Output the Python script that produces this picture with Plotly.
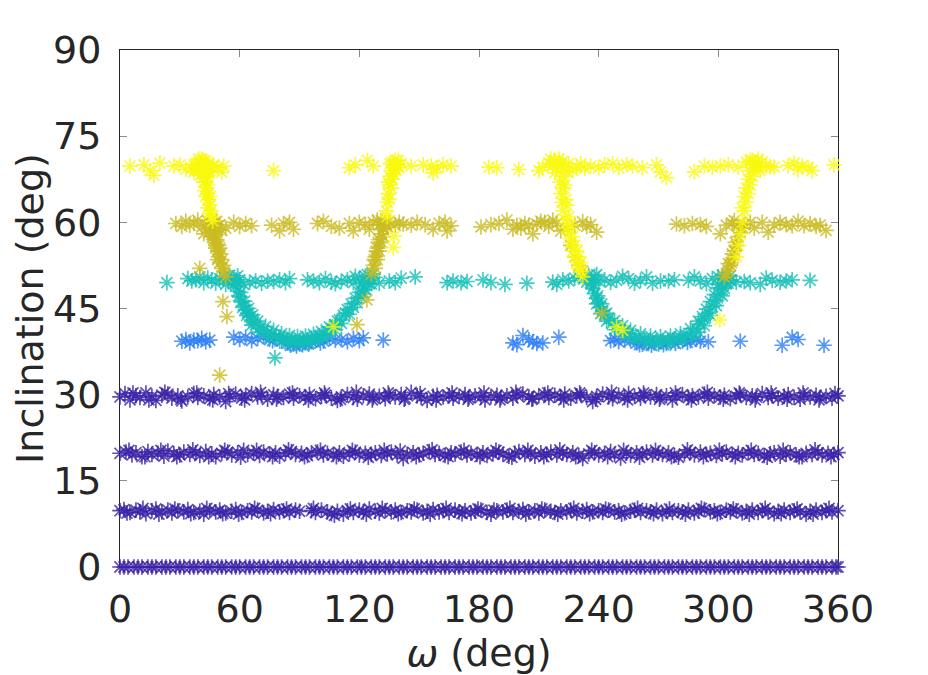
import plotly.graph_objects as go

# omega (deg) and inclination (deg)

# i = 0 band (flat)
omega_0 = [0, 2, 4, 7, 9, 11, 14, 16, 18, 21, 23, 25, 28, 30, 32, 35, 37, 39, 42, 44, 46, 49, 51, 53,
           56, 58, 60, 63, 65, 67, 70, 72, 74, 77, 79, 81, 84, 86, 88, 91, 93, 95, 98, 100, 102, 105,
           107, 109, 112, 114, 116, 119, 121, 123, 126, 128, 130, 133, 135, 137, 140, 142, 144, 147,
           149, 151, 154, 156, 158, 161, 163, 165, 168, 170, 172, 175, 177, 179, 182, 184, 186, 189,
           191, 193, 196, 198, 200, 203, 205, 207, 210, 212, 214, 217, 219, 221, 224, 226, 228, 231,
           233, 235, 238, 240, 242, 245, 247, 249, 252, 254, 256, 259, 261, 263, 266, 268, 270, 273,
           275, 277, 280, 282, 284, 287, 289, 291, 294, 296, 298, 301, 303, 305, 308, 310, 312, 315,
           317, 319, 322, 324, 326, 329, 331, 333, 336, 338, 340, 343, 345, 347, 350, 352, 354, 357,
           359, 360]

band_10 = [(0, 9.8), (2, 10.0), (5, 9.5), (8, 9.9), (10, 9.6), (13, 9.3), (16, 9.8), (18, 10.1),
           (21, 9.6), (24, 9.9), (26, 9.4), (29, 9.8), (32, 9.6), (34, 10.0), (37, 9.5), (40, 9.7),
           (42, 9.2), (45, 9.8), (48, 9.6), (50, 9.9), (53, 9.4), (56, 9.7), (58, 10.0), (61, 9.5),
           (64, 9.8), (66, 9.6), (69, 9.9), (72, 9.4), (74, 9.7), (77, 10.0), (80, 9.6), (82, 9.8),
           (85, 9.5), (88, 9.9), (90, 9.7), (96, 9.8), (98, 9.5), (101, 9.9), (104, 9.6), (106, 9.3),
           (109, 9.7), (112, 9.2), (114, 9.8), (117, 9.5), (120, 9.9), (122, 9.6), (125, 10.1),
           (128, 9.7), (130, 9.4), (133, 9.8), (136, 9.6), (138, 9.9), (141, 9.5), (144, 9.8),
           (146, 9.6), (149, 9.9), (152, 9.4), (154, 9.7), (157, 10.0), (160, 9.6), (162, 9.8),
           (165, 9.5), (168, 9.9), (170, 9.6), (173, 9.8), (176, 9.4), (178, 9.7), (181, 9.9),
           (184, 9.5), (186, 9.2), (189, 9.8), (192, 9.6), (194, 9.9), (197, 9.5), (200, 9.7),
           (202, 10.0), (205, 9.6), (208, 9.8), (210, 9.4), (213, 9.9), (216, 9.7), (218, 9.5),
           (221, 9.8), (224, 9.6), (226, 9.9), (229, 9.4), (232, 9.7), (234, 10.0), (237, 9.6),
           (240, 9.8), (242, 9.5), (245, 9.9), (248, 9.6), (250, 9.8), (253, 9.4), (256, 9.7),
           (258, 9.9), (261, 9.5), (264, 9.8), (266, 9.6), (269, 9.9), (272, 9.3), (274, 9.7),
           (277, 9.5), (280, 9.8), (282, 9.6), (285, 9.9), (288, 9.4), (290, 9.7), (293, 10.0),
           (296, 9.6), (298, 9.8), (301, 9.5), (304, 9.9), (306, 9.6), (309, 9.8), (312, 9.4),
           (314, 9.7), (317, 9.9), (320, 9.5), (322, 9.8), (325, 9.6), (328, 9.3), (330, 9.7),
           (333, 9.9), (336, 9.5), (338, 9.8), (341, 9.6), (344, 9.2), (346, 9.7), (349, 9.9),
           (352, 9.5), (354, 9.8), (357, 9.6), (360, 9.8),
           (3.5, 9.4), (11.5, 10.2), (19.5, 9.2), (27.5, 10.1), (35.5, 9.3), (43.5, 10.2), (51.5, 9.3),
           (59.5, 9.2), (67.5, 10.2), (75.5, 9.3), (83.5, 10.1), (97, 10.2), (107.5, 9.0), (115.5, 10.1),
           (123.5, 9.2), (131.5, 10.2), (139.5, 9.3), (147.5, 10.1), (155.5, 9.2), (163.5, 10.2),
           (171.5, 9.3), (179.5, 10.1), (187.5, 9.9), (195.5, 10.2), (203.5, 9.2), (211.5, 10.1),
           (219.5, 9.2), (227.5, 10.2), (235.5, 9.3), (243.5, 10.1), (251.5, 9.2), (259.5, 10.2),
           (267.5, 9.3), (275.5, 10.1), (283.5, 9.2), (291.5, 10.2), (299.5, 9.3), (307.5, 10.1),
           (315.5, 9.2), (323.5, 10.2), (331.5, 9.3), (339.5, 10.1), (347.5, 9.2), (355.5, 10.2)]

band_20 = [(0, 19.8), (3, 20.0), (6, 19.5), (8, 19.9), (11, 19.2), (14, 20.1), (16, 19.6), (19, 19.8),
           (22, 19.3), (24, 20.2), (27, 19.7), (30, 19.5), (32, 20.0), (35, 19.6), (38, 19.9),
           (40, 19.4), (43, 20.1), (46, 19.7), (48, 19.2), (51, 19.8), (54, 20.0), (56, 19.5),
           (59, 19.9), (62, 20.3), (64, 19.6), (67, 19.8), (70, 19.4), (72, 20.0), (75, 19.7),
           (78, 19.9), (80, 19.3), (83, 19.8), (86, 20.1), (88, 19.6), (91, 19.8), (94, 19.4),
           (96, 19.9), (99, 20.0), (102, 19.5), (104, 19.8), (107, 19.6), (110, 19.9), (112, 19.3),
           (115, 19.7), (118, 20.0), (120, 19.5), (123, 19.8), (126, 19.6), (128, 19.9), (131, 19.4),
           (134, 19.7), (136, 20.0), (139, 19.5), (142, 18.9), (144, 19.6), (147, 19.9), (150, 19.5),
           (152, 19.8), (155, 20.1), (158, 19.6), (160, 19.8), (163, 19.4), (166, 19.9), (168, 19.7),
           (171, 20.0), (174, 19.5), (176, 19.8), (179, 19.6), (182, 19.9), (184, 19.4), (187, 19.7),
           (190, 20.0), (192, 19.6), (195, 19.3), (198, 19.8), (200, 20.1), (203, 19.6), (206, 19.8),
           (208, 19.3), (211, 19.9), (214, 19.6), (216, 20.0), (219, 19.5), (222, 19.8), (224, 19.6),
           (227, 19.9), (230, 19.4), (232, 18.9), (235, 19.7), (238, 19.9), (240, 19.5), (243, 19.8),
           (246, 20.1), (248, 19.6), (251, 19.0), (254, 19.8), (256, 19.5), (259, 19.9), (262, 19.7),
           (264, 20.0), (267, 19.5), (270, 19.8), (272, 19.6), (275, 19.9), (278, 19.4), (280, 19.1),
           (283, 19.7), (286, 19.9), (288, 19.5), (291, 20.0), (294, 19.6), (296, 19.8), (299, 19.4),
           (302, 19.7), (304, 20.0), (307, 19.6), (310, 19.8), (312, 19.5), (315, 19.9), (318, 19.6),
           (320, 19.8), (323, 19.4), (326, 19.7), (328, 19.9), (331, 19.3), (334, 19.6), (336, 19.9),
           (339, 19.5), (342, 19.2), (344, 19.8), (347, 19.6), (350, 19.9), (352, 19.5), (355, 19.8),
           (358, 19.6), (360, 19.9),
           (4.5, 20.3), (12.5, 19.2), (20.5, 20.3), (28.5, 19.2), (36.5, 20.4), (44.5, 19.2),
           (52.5, 20.3), (60.5, 19.1), (68.5, 20.3), (76.5, 19.2), (84.5, 20.4), (92.5, 19.2),
           (100.5, 20.3), (108.5, 19.2), (116.5, 20.3), (124.5, 19.1), (132.5, 20.3), (140.5, 20.2),
           (148.5, 19.2), (156.5, 20.4), (164.5, 19.2), (172.5, 20.3), (180.5, 19.2), (188.5, 20.3),
           (196.5, 19.1), (204.5, 20.3), (212.5, 19.2), (220.5, 20.4), (228.5, 19.2), (236.5, 20.3),
           (244.5, 19.2), (252.5, 20.3), (260.5, 19.1), (268.5, 20.3), (276.5, 19.2), (284.5, 20.4),
           (292.5, 19.2), (300.5, 20.3), (308.5, 19.2), (316.5, 20.3), (324.5, 19.1), (332.5, 20.3),
           (340.5, 19.2), (348.5, 20.4), (356.5, 19.2)]

band_30 = [(0, 29.6), (2.5, 30.2), (5, 29.1), (8, 29.8), (10, 29.5), (13, 30.3), (16, 29.7), (18, 29.0),
           (21, 29.9), (24, 30.1), (26, 29.4), (29, 29.8), (31, 28.9), (34, 29.6), (37, 30.2),
           (39, 29.5), (42, 29.8), (45, 29.3), (47, 30.0), (50, 29.6), (53, 28.8), (55, 29.7),
           (58, 30.1), (61, 29.4), (63, 29.9), (66, 30.2), (69, 29.6), (71, 29.8), (74, 29.2),
           (77, 30.0), (79, 29.7), (82, 29.5), (85, 30.1), (87, 29.4), (90, 29.8), (93, 29.6),
           (95, 30.0), (98, 29.3), (101, 29.7), (103, 29.9), (106, 29.4), (109, 29.0), (111, 29.6),
           (114, 30.0), (117, 29.5), (119, 29.2), (122, 29.8), (125, 30.1), (127, 29.5), (130, 29.7),
           (133, 29.3), (135, 29.9), (138, 29.6), (141, 30.0), (143, 29.4), (146, 30.4), (149, 29.8),
           (151, 29.5), (154, 29.0), (157, 29.7), (159, 29.9), (162, 29.6), (165, 29.8), (167, 29.4),
           (170, 29.7), (173, 30.0), (175, 29.5), (178, 29.8), (181, 29.6), (183, 29.1), (186, 29.7),
           (189, 29.9), (191, 29.5), (194, 29.8), (197, 29.4), (199, 29.9), (202, 30.1), (205, 29.6),
           (207, 29.3), (210, 29.8), (213, 30.0), (215, 29.5), (218, 29.9), (221, 29.6), (223, 30.1),
           (226, 29.4), (229, 29.8), (231, 30.0), (234, 29.5), (237, 28.8), (239, 29.7), (242, 30.1),
           (245, 29.6), (247, 29.3), (250, 29.9), (253, 29.5), (255, 30.2), (258, 29.7), (261, 29.4),
           (263, 29.9), (266, 29.6), (269, 30.0), (271, 29.5), (274, 29.8), (277, 29.1), (279, 29.7),
           (282, 30.0), (285, 29.5), (287, 29.8), (290, 29.6), (293, 30.1), (295, 29.4), (298, 29.8),
           (301, 29.6), (303, 29.9), (306, 29.3), (309, 29.7), (311, 30.0), (314, 29.5), (317, 29.8),
           (319, 29.6), (322, 30.2), (325, 29.5), (327, 29.8), (330, 29.4), (333, 29.7), (335, 30.0),
           (338, 29.5), (341, 29.2), (343, 29.8), (346, 29.6), (349, 29.9), (351, 29.5), (354, 29.7),
           (357, 29.4), (360, 29.8),
           (6.5, 30.3), (14.5, 29.1), (22.5, 30.4), (30.5, 29.2), (38.5, 30.3), (46.5, 29.1),
           (54.5, 30.2), (62.5, 29.1), (70.5, 30.4), (78.5, 29.2), (86.5, 30.3), (94.5, 29.1),
           (102.5, 30.3), (110.5, 29.2), (118.5, 30.4), (126.5, 29.1), (134.5, 30.3), (142.5, 29.2),
           (150.5, 30.2), (158.5, 29.1), (166.5, 30.3), (174.5, 29.2), (182.5, 30.3), (190.5, 29.1),
           (198.5, 30.4), (206.5, 29.2), (214.5, 30.3), (222.5, 29.1), (230.5, 30.3), (238.5, 29.2),
           (246.5, 30.4), (254.5, 29.1), (262.5, 30.3), (270.5, 29.2), (278.5, 30.3), (286.5, 29.1),
           (294.5, 30.4), (302.5, 29.2), (310.5, 30.3), (318.5, 29.1), (326.5, 30.3), (334.5, 29.2),
           (342.5, 30.3), (350.5, 29.1), (358.5, 30.2)]

# i = 40 group (blue)
blue_pts = [(31, 39.3), (33, 39.6), (35, 39.0), (37, 39.5), (39, 39.4), (41, 39.8), (43, 39.2), (45, 39.5),
            (57, 40.0), (60, 39.6), (63, 40.0), (66, 39.4), (69, 39.8), (72, 40.1), (75, 39.6), (78, 39.9),
            (81, 39.3), (84, 39.0), (87, 38.8), (90, 38.9), (93, 39.0), (96, 39.2), (99, 39.6), (102, 39.3),
            (105, 39.8), (108, 39.5), (111, 39.6), (114, 39.2), (117, 39.8), (120, 39.4), (122, 39.9),
            (132, 39.5), (197, 39.0), (199, 38.7), (202, 40.3), (205, 39.6), (207, 39.2), (209, 38.9),
            (212, 39.0), (220, 40.0), (246, 39.4), (248, 39.8), (250, 39.2), (253, 39.5), (256, 39.4),
            (259, 39.0), (262, 38.8), (265, 38.9), (268, 39.0), (271, 39.2), (274, 38.9), (277, 39.5),
            (280, 39.3), (283, 39.7), (286, 39.4), (289, 39.6), (291, 39.3), (295, 39.2), (311, 39.3),
            (332, 38.6), (337, 40.0), (340, 39.6), (353, 38.6),
            (85.5, 38.6), (88.5, 38.5), (91.5, 38.7), (94.5, 38.8), (260.5, 38.7), (266.5, 38.6),
            (272.5, 38.7), (278.5, 38.9), (284.5, 39.1), (100.5, 39.0), (76.5, 39.4)]

# i = 50 group (teal), band plus the two U-shaped arcs
teal_pts = [(23.5, 49.5), (34, 50.2), (36, 49.8), (38, 50.0), (40, 50.5), (42, 49.5), (44, 50.3), (46, 50.0),
            (48, 49.4), (50, 50.2), (52, 50.6), (54, 49.8), (56, 50.3), (58, 49.6), (60, 50.0), (62, 49.2),
            (65, 49.6), (68, 49.8), (71, 49.4), (74, 49.8), (77, 49.7), (80, 50.0), (83, 49.5), (85, 50.2),
            (55, 50.8), (57, 49.3), (59, 50.7), (53, 49.2),
            (57, 50.0), (58, 49.0), (59, 48.0), (60, 47.0), (61, 46.2), (62, 45.5), (63, 44.8), (64, 44.2),
            (65, 43.6), (66, 43.0), (67, 42.6), (68, 42.2), (70, 41.6), (72, 41.2), (74, 40.8), (76, 40.5),
            (78, 40.2), (80, 40.0), (82, 39.8), (84, 39.6), (86, 39.5), (88, 39.4), (90, 39.4), (92, 39.5),
            (94, 39.6), (96, 39.8), (98, 40.0), (100, 40.2), (102, 40.6), (104, 41.0), (106, 41.5),
            (108, 42.2), (110, 43.0), (112, 43.8), (114, 44.8), (116, 45.8), (118, 46.8), (120, 47.8),
            (122, 48.8), (124, 49.6), (126, 50.2),
            (58.5, 49.5), (60.5, 47.8), (62.5, 46.3), (64.5, 45.0), (66.5, 43.9), (69, 42.8), (73, 41.9),
            (77, 41.2), (81, 40.6), (85, 40.3), (89, 40.1), (93, 40.2), (97, 40.5), (101, 41.0),
            (105, 41.8), (109, 42.8), (113, 44.2), (117, 45.2), (121, 47.0), (123, 48.3), (125, 49.3),
            (59.5, 47.2), (61.5, 45.2), (63.5, 43.8), (66, 42.1), (70, 40.9), (75, 39.9), (80, 39.3),
            (85, 38.9), (90, 38.8), (95, 39.0), (100, 39.5), (104, 40.2), (108, 41.3), (111, 42.4),
            (115, 44.0), (119, 46.0), (122, 47.6), (126, 49.3),
            (77.7, 36.4),
            (94, 50.0), (97, 49.8), (100, 49.5), (103, 50.2), (106, 49.6), (108, 49.3), (111, 49.8),
            (114, 50.0), (117, 49.5), (120, 50.3), (123, 50.6), (125, 50.0), (128, 50.4), (130, 49.4),
            (127, 51.0), (124, 50.9), (121, 49.3), (118, 50.6),
            (135, 49.8), (138, 49.5), (141, 50.3), (148, 50.5), (164, 49.5), (167, 49.8), (171, 49.5),
            (174, 49.7),
            (182, 50.0), (186, 49.5), (193, 49.2), (204, 49.4), (217, 49.6), (219, 49.2), (222, 50.0),
            (225, 49.8), (228, 50.3), (230, 50.5), (232, 50.4), (234, 49.6), (236, 50.0), (238, 50.6),
            (240, 49.8), (243, 50.0), (246, 49.6), (249, 49.9), (252, 50.6), (255, 50.2), (258, 49.4),
            (261, 49.9), (264, 50.5), (267, 49.4), (271, 49.8), (275, 49.8), (278, 50.0),
            (285, 49.9), (288, 50.5), (291, 49.8), (294, 49.3), (297, 50.2), (300, 50.5), (303, 50.1),
            (306, 49.8), (309, 49.6), (313, 49.7), (316, 49.5), (321, 49.2), (324, 50.3), (327, 49.9),
            (331, 49.6), (334, 49.8), (337, 50.0), (346, 49.9),
            (235, 50.8), (237, 49.4), (239, 50.9), (302, 50.8), (304, 49.3), (306, 50.7), (300, 49.2),
            (236, 49.5), (237, 48.5), (238, 47.6), (239, 46.8), (240, 46.0), (241, 45.3), (242, 44.6),
            (243, 44.0), (245, 43.2), (247, 42.5), (249, 41.9), (251, 41.4), (253, 41.0), (255, 40.6),
            (257, 40.3), (260, 40.0), (263, 39.7), (266, 39.5), (269, 39.4), (272, 39.4), (275, 39.5),
            (278, 39.7), (281, 40.0), (284, 40.3), (287, 40.8), (289, 41.5), (291, 42.3), (293, 43.2),
            (295, 44.2), (297, 45.3), (299, 46.4), (301, 47.5), (303, 48.5), (305, 49.4), (306, 50.0),
            (237.5, 49.0), (239.5, 47.2), (241.5, 45.8), (244, 44.2), (248, 42.9), (252, 42.0),
            (256, 41.2), (261, 40.6), (266, 40.2), (271, 40.1), (276, 40.2), (281, 40.6), (286, 41.5),
            (290, 42.8), (292, 43.6), (294, 44.9), (296, 46.2), (298, 47.4), (300, 48.6), (302, 49.5),
            (239, 45.8), (241, 44.1), (244, 42.8), (248, 41.3), (253, 40.2), (258, 39.5), (264, 38.9),
            (270, 38.8), (276, 38.9), (282, 39.3), (287, 40.0), (290, 40.9), (293, 42.0), (296, 43.8),
            (299, 45.5), (302, 47.2)]

# i = 60 group (olive)
olive_pts = [(28, 59.8), (31, 59.3), (33, 60.2), (35, 59.5), (37, 59.8), (39, 60.4), (41, 59.2), (42, 58.0),
             (43, 59.5), (44, 60.2), (45, 59.0), (46, 58.5), (47, 59.8), (48, 57.8), (49, 58.8), (50, 59.6),
             (53, 59.0), (57, 60.0), (60, 59.3), (63, 59.8), (66, 59.4), (76, 59.5), (80, 58.5), (82, 59.8),
             (85, 60.0), (87, 58.8), (44.5, 58.2), (46, 60.5), (48.5, 60.2), (51, 58.6),
             (47, 57.0), (48, 56.0), (49, 55.0), (49.5, 54.0), (50, 53.0), (51, 52.0), (52, 51.5),
             (53, 50.5), (48, 55.5), (49, 53.5), (46.5, 57.5), (47.5, 56.5),
             (47.5, 58.0), (48.5, 57.0), (49.5, 56.0), (50.5, 54.5), (51, 53.5), (52, 52.5), (50, 55.5),
             (40, 52.0), (51.6, 46.2), (53.6, 43.6), (50, 33.4),
             (99, 59.8), (102, 60.2), (106, 59.3), (110, 59.0), (115, 59.8), (117, 58.5), (120, 60.0),
             (123, 59.6), (125, 58.8), (127, 60.0), (130, 59.5), (131, 60.3), (133, 59.8), (135, 60.2),
             (138, 59.5), (140, 60.0), (142, 59.7), (146, 59.5), (149, 60.0), (153, 59.6), (157, 58.8),
             (160, 59.8), (163, 60.0), (166, 59.4), (164, 58.5), (129, 60.4), (132, 58.8), (134, 59.2),
             (126, 51.0), (127, 52.5), (128, 54.0), (129, 55.5), (130, 57.0), (131, 58.0), (132, 59.0),
             (127.5, 53.5), (128.5, 55.0), (129.5, 56.5), (128, 52.0), (129, 53.5), (130, 55.0),
             (131, 56.5), (132, 57.5),
             (123.8, 46.5), (118.8, 42.2),
             (181, 59.2), (186, 59.6), (190, 59.8), (194, 60.4), (197, 58.8), (199, 59.5), (201, 59.0),
             (203, 59.8), (205, 59.5), (207, 58.0), (209, 59.7), (211, 60.2), (213, 60.0), (215, 59.3),
             (217, 60.4), (219, 59.8), (221, 58.5), (224, 58.8), (228, 59.5), (232, 60.1), (234, 59.3),
             (236, 59.6), (239, 58.3),
             (226, 56.0), (228, 54.0), (230, 52.5), (232, 51.5), (241.6, 44.2),
             (279, 59.7), (283, 59.4), (287, 59.8), (291, 59.6), (294, 59.3), (301, 58.0), (304, 59.5),
             (307, 59.8), (310, 59.4), (313, 59.6), (316, 60.0), (318, 59.0), (322, 60.0), (325, 58.3),
             (328, 59.5), (331, 60.0), (334, 59.6), (337, 59.4), (340, 60.2), (343, 59.4), (346, 59.8),
             (349, 59.3), (351, 59.5), (354, 58.6), (361, 58.6), (308, 60.3), (312, 59.1),
             (303, 50.5), (305, 51.5), (306, 52.5), (307, 53.5), (308, 55.0), (309, 56.0), (310, 57.5),
             (311, 59.0), (304, 51.0), (306.5, 53.0), (305, 52.8), (307, 54.5), (308.5, 56.5)]

# i = 70 group (yellow)
yellow_pts = [(5, 69.8), (12, 70.0), (15, 69.0), (17, 68.2), (20, 70.3), (27, 69.8), (30, 70.0), (33, 69.2),
              (36, 69.5), (38, 70.2), (39, 69.0), (40, 70.5), (41, 69.8), (42, 70.8), (43, 69.5), (44, 70.2),
              (45, 69.0), (41.5, 68.5), (43, 68.0), (39.5, 71.0), (42, 67.0), (43.5, 66.0), (44, 65.0),
              (44.5, 64.0), (45, 63.0), (45.5, 62.0), (46, 61.0), (46.5, 60.2), (44, 66.5), (45, 64.5),
              (40.5, 69.2), (42.5, 69.6), (37, 70.0), (47, 70.0), (49, 69.5), (52, 69.8), (51, 68.7),
              (37, 68.8), (38.5, 69.6), (40, 68.2), (41, 71.0), (43, 70.6), (44.5, 68.8), (46, 69.6),
              (42.5, 65.5), (43, 64.5), (44, 62.5), (45, 61.5), (43, 67.0), (44, 67.8), (42, 68.6),
              (77, 69.0), (107, 41.8),
              (115, 69.5), (118, 70.0), (124, 70.8), (127, 69.8),
              (133.5, 62.0), (134, 63.5), (134.5, 65.0), (135, 66.5), (135.5, 68.0), (136, 69.0),
              (137, 70.0), (138, 70.8), (139, 70.0), (140, 69.5), (136.5, 70.5), (138.5, 69.0),
              (134.5, 67.0), (137.5, 69.5), (137, 55.6), (137.5, 57.6),
              (135, 64.0), (136, 66.0), (136.5, 67.5), (137, 68.5), (135.5, 70.2), (139.5, 70.8),
              (141, 70.2), (134, 61.0),
              (146, 69.8), (152, 70.0), (156, 69.8), (159, 69.5), (162, 70.0), (166, 69.8), (157, 68.6),
              (185, 69.6), (189, 69.5), (200, 69.2), (210, 69.0), (212, 69.6), (215, 70.3), (217, 70.0),
              (219, 69.4), (221, 70.0), (223, 69.5), (225, 70.2), (227, 69.0), (229, 69.6), (231, 70.2),
              (233, 69.4), (236, 69.8), (240, 69.5), (243, 70.0), (247, 70.2), (250, 69.5), (254, 70.0),
              (257, 69.8), (262, 69.5), (269, 70.0), (271, 68.8), (274, 67.8),
              (216, 71.0), (218, 70.8), (220, 71.0), (222, 70.6), (224, 68.8), (218, 68.6),
              (220.5, 67.0), (221, 65.0), (221.5, 63.5), (222, 62.0), (223, 60.5), (224, 59.0),
              (225, 58.0), (226, 56.5), (227, 55.0), (228, 54.0), (229, 53.0), (230, 52.0), (231, 51.5),
              (232, 50.5), (222.5, 66.0), (223.5, 64.0), (249, 41.8), (252, 41.2),
              (222, 68.0), (223, 66.5), (224, 63.0), (225, 61.0), (226, 59.5), (227, 57.5), (228, 56.0),
              (229, 55.0), (230, 54.0), (231, 53.0),
              (288, 68.8), (293, 69.8), (297, 69.6), (301, 69.8), (305, 70.0), (310, 69.6), (314, 70.5),
              (316, 70.8), (318, 70.0), (320, 69.5), (322, 70.5), (324, 69.8), (326, 69.7), (328, 69.6),
              (335, 69.9), (338, 70.3), (340, 69.2), (342, 69.8), (345, 69.6), (347, 69.0), (358, 70.0),
              (309, 54.0), (310, 56.0), (311, 58.0), (312, 60.0), (313, 62.0), (314, 63.5), (315, 65.0),
              (316, 66.5), (317, 68.0), (318, 69.5), (319, 70.5), (300.7, 43.0),
              (314, 66.0), (315, 67.5), (316, 69.0), (317, 70.8), (320, 71.0), (321, 69.0), (313, 64.5),
              (312, 62.5)]

x_ticks = [0, 60, 120, 180, 240, 300, 360]
y_ticks = [0, 15, 30, 45, 60, 75, 90]

purple = '#3a22a6'
groups = [
    (omega_0 + [p[0] for p in band_10 + band_20 + band_30],
     [0] * len(omega_0) + [p[1] for p in band_10 + band_20 + band_30], purple),
    ([p[0] for p in blue_pts], [p[1] for p in blue_pts], '#2e7ff4'),
    ([p[0] for p in teal_pts], [p[1] for p in teal_pts], '#13bfb7'),
    ([p[0] for p in olive_pts], [p[1] for p in olive_pts], '#c9bb22'),
    ([p[0] for p in yellow_pts], [p[1] for p in yellow_pts], '#f9f90e'),
]

fig = go.Figure()
for xs, ys, col in groups:
    fig.add_trace(go.Scatter(
        x=xs, y=ys, mode='markers', cliponaxis=False, showlegend=False,
        marker=dict(symbol='asterisk-open', size=13, color=col, opacity=0.8,
                    line=dict(width=1.7, color=col)),
    ))

axis_font = dict(family='DejaVu Sans', size=38, color='#262626')
# the page body adds an 8px offset, so margins are set 8px smaller at top/left
fig.update_layout(
    width=928, height=675,
    margin=dict(l=112, r=98, t=42, b=116),
    plot_bgcolor='white',
    paper_bgcolor='white',
    font=axis_font,
    xaxis=dict(
        range=[0, 360], tickvals=x_ticks, ticks='inside', ticklen=7, tickcolor='#8c8c8c',
        showline=True, linewidth=1, linecolor='#262626', mirror='ticks', showgrid=False,
        zeroline=False, layer='below traces', tickfont=axis_font, ticklabelstandoff=8,
        title=dict(text='<i>ω</i> (deg)', font=axis_font, standoff=2),
    ),
    yaxis=dict(
        range=[0, 90], tickvals=y_ticks, ticks='inside', ticklen=7, tickcolor='#8c8c8c',
        showline=True, linewidth=1, linecolor='#262626', mirror='ticks', showgrid=False,
        zeroline=False, layer='below traces', tickfont=axis_font, ticklabelstandoff=10,
        title=dict(text='Inclination (deg)', font=axis_font, standoff=6),
    ),
)

fig.write_html('out.html')
